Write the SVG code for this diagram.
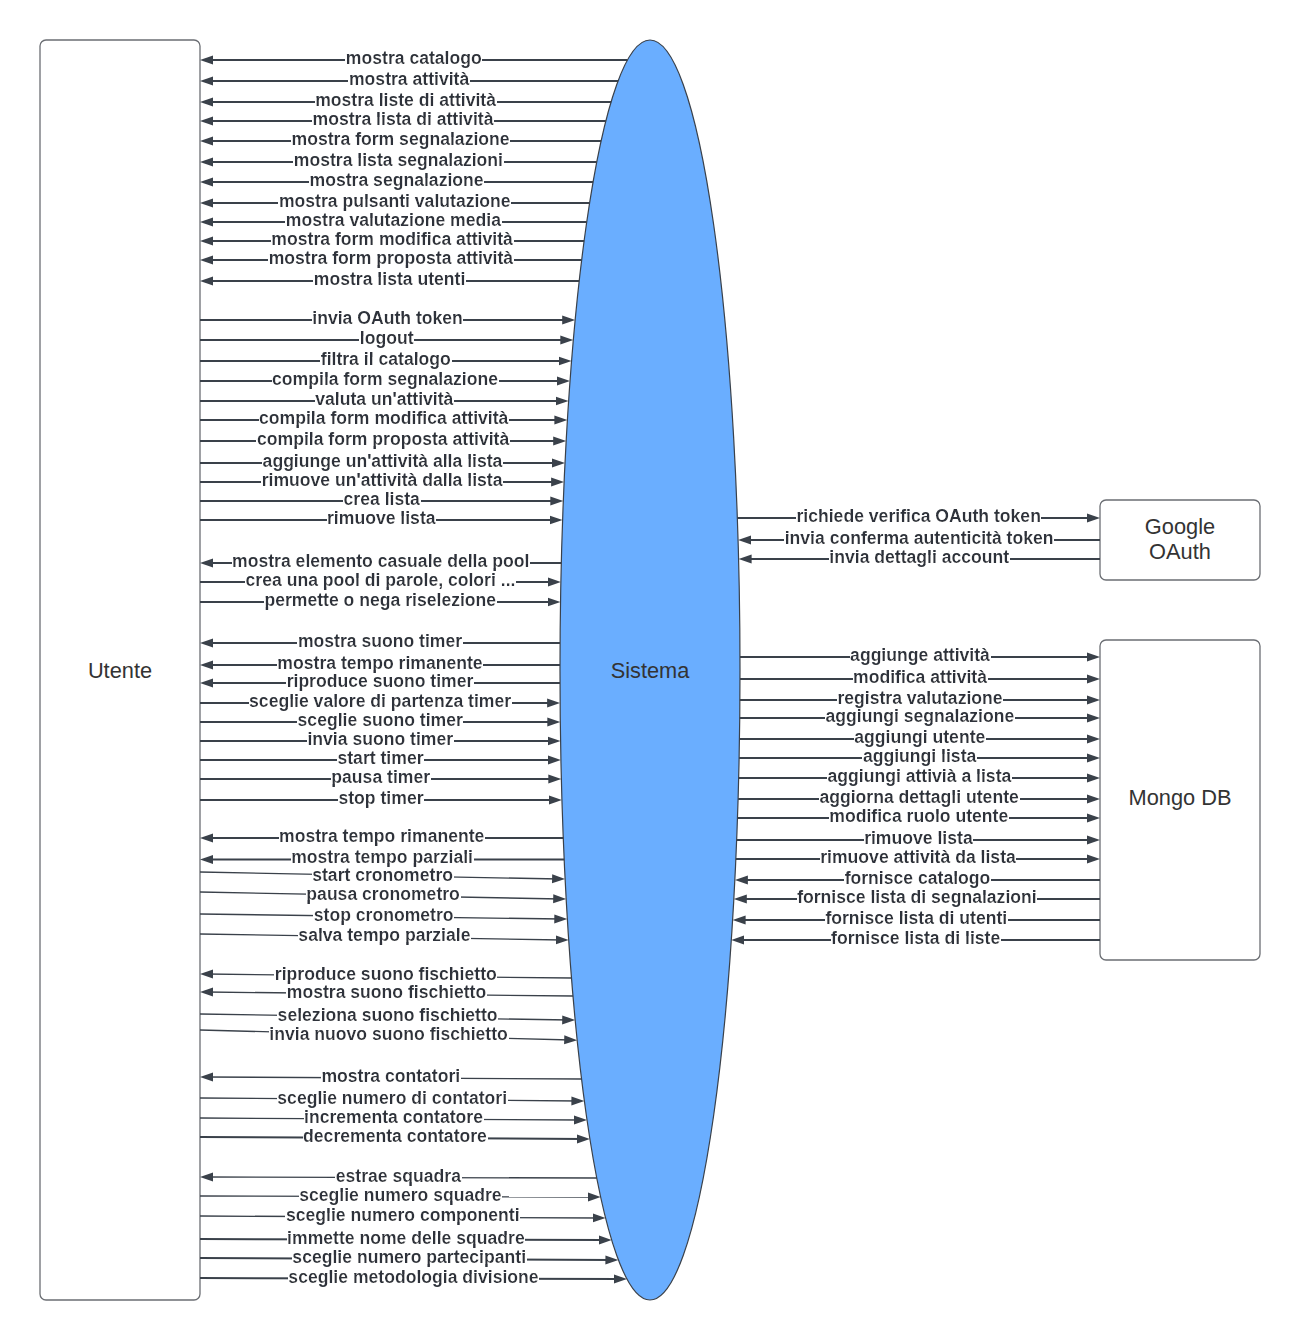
<svg xmlns="http://www.w3.org/2000/svg" width="1300" height="1340" viewBox="0 0 1300 1340">
<style>
.box{fill:#fff;stroke:#6b6e73;stroke-width:1.3}
.ell{fill:#6aaeff;stroke:#3a414a;stroke-width:1.2}
.nl{font-family:"Liberation Sans",Arial,sans-serif;font-size:21.8px;fill:#333;text-anchor:middle}
.c line{stroke:#3a414a;stroke-width:2;marker-end:url(#ah)}
.c line.t{stroke-width:1.3}
.c text{font-family:"Liberation Sans",Arial,sans-serif;font-size:17.6px;font-weight:bold;fill:#2e333a;text-anchor:middle;filter:url(#bg)}
</style>
<defs>
<marker id="ah" markerUnits="userSpaceOnUse" viewBox="0 0 14 10" markerWidth="14" markerHeight="10" refX="7" refY="5" orient="auto">
<path d="M0,0.5 L13,5 L0,9.5 z" fill="#3a414a"/>
</marker>
<filter id="bg" x="-0.02" y="-0.1" width="1.04" height="1.2" primitiveUnits="objectBoundingBox">
<feFlood flood-color="#ffffff" x="0" y="0.41" width="1" height="0.4" result="f"/>
<feMerge><feMergeNode in="f"/><feMergeNode in="SourceGraphic"/></feMerge>
</filter>
</defs>
<rect width="1300" height="1340" fill="#fff"/>
<g id="utente"><rect class="box" x="40" y="40" width="160" height="1260" rx="6"/><text class="nl" x="120" y="678">Utente</text></g>
<g id="sistema"><ellipse class="ell" cx="650" cy="670" rx="90" ry="630"/><text class="nl" x="650" y="678">Sistema</text></g>
<g id="google"><rect class="box" x="1100" y="500" width="160" height="80" rx="6"/><text class="nl" x="1180" y="534">Google</text><text class="nl" x="1180" y="559">OAuth</text></g>
<g id="mongo"><rect class="box" x="1100" y="640" width="160" height="320" rx="6"/><text class="nl" x="1180" y="805">Mongo DB</text></g>
<g id="connectors" class="c">
<line x1="627.5" y1="60" x2="206" y2="60"/><text x="413.8" y="64">mostra catalogo</text>
<line x1="618.1" y1="81" x2="206" y2="81"/><text x="409.1" y="85">mostra attività</text>
<line x1="611.1" y1="102" x2="206" y2="102"/><text x="405.6" y="106">mostra liste di attività</text>
<line x1="605.9" y1="121" x2="206" y2="121"/><text x="403" y="125">mostra lista di attività</text>
<line x1="601.1" y1="141" x2="206" y2="141"/><text x="400.6" y="145">mostra form segnalazione</text>
<line x1="596.8" y1="162" x2="206" y2="162"/><text x="398.4" y="166">mostra lista segnalazioni</text>
<line x1="593.1" y1="182" x2="206" y2="182"/><text x="396.6" y="186">mostra segnalazione</text>
<line x1="589.6" y1="203" x2="206" y2="203"/><text x="394.8" y="207">mostra pulsanti valutazione</text>
<line x1="586.7" y1="222" x2="206" y2="222"/><text x="393.4" y="226">mostra valutazione media</text>
<line x1="584.1" y1="241" x2="206" y2="241"/><text x="392.1" y="245">mostra form modifica attività</text>
<line x1="581.7" y1="260" x2="206" y2="260"/><text x="390.9" y="264">mostra form proposta attività</text>
<line x1="579.2" y1="281" x2="206" y2="281"/><text x="389.6" y="285">mostra lista utenti</text>
<line x1="200" y1="320" x2="569.2" y2="320"/><text x="387.6" y="324">invia OAuth token</text>
<line x1="200" y1="340" x2="567.3" y2="340"/><text x="386.7" y="344">logout</text>
<line x1="200" y1="361" x2="565.6" y2="361"/><text x="385.8" y="365">filtra il catalogo</text>
<line x1="200" y1="381" x2="564" y2="381"/><text x="385" y="385">compila form segnalazione</text>
<line x1="200" y1="401" x2="562.6" y2="401"/><text x="384.3" y="405">valuta un'attività</text>
<line x1="200" y1="420" x2="561.4" y2="420"/><text x="383.7" y="424">compila form modifica attività</text>
<line x1="200" y1="441" x2="560.2" y2="441"/><text x="383.1" y="445">compila form proposta attività</text>
<line x1="200" y1="463" x2="559" y2="463"/><text x="382.5" y="467">aggiunge un'attività alla lista</text>
<line x1="200" y1="482" x2="558.1" y2="482"/><text x="382.1" y="486">rimuove un'attività dalla lista</text>
<line x1="200" y1="501" x2="557.3" y2="501"/><text x="381.7" y="505">crea lista</text>
<line x1="200" y1="520" x2="556.6" y2="520"/><text x="381.3" y="524">rimuove lista</text>
<line x1="561.3" y1="563" x2="206" y2="563"/><text x="380.7" y="567">mostra elemento casuale della pool</text>
<line x1="200" y1="582" x2="554.9" y2="582"/><text x="380.5" y="586">crea una pool di parole, colori ...</text>
<line x1="200" y1="602" x2="554.5" y2="602"/><text x="380.3" y="606">permette o nega riselezione</text>
<line x1="560" y1="643" x2="206" y2="643"/><text x="380" y="647">mostra suono timer</text>
<line x1="560" y1="665" x2="206" y2="665"/><text x="380" y="669">mostra tempo rimanente</text>
<line x1="560" y1="683" x2="206" y2="683"/><text x="380" y="687">riproduce suono timer</text>
<line x1="200" y1="703" x2="554.1" y2="703"/><text x="380.1" y="707">sceglie valore di partenza timer</text>
<line x1="200" y1="722" x2="554.3" y2="722"/><text x="380.2" y="726">sceglie suono timer</text>
<line x1="200" y1="741" x2="554.6" y2="741"/><text x="380.3" y="745">invia suono timer</text>
<line x1="200" y1="760" x2="554.9" y2="760"/><text x="380.5" y="764">start timer</text>
<line x1="200" y1="779" x2="555.3" y2="779"/><text x="380.7" y="783">pausa timer</text>
<line x1="200" y1="800" x2="555.9" y2="800"/><text x="381" y="804">stop timer</text>
<line x1="563.3" y1="838" x2="206" y2="838"/><text x="381.7" y="842">mostra tempo rimanente</text>
<line x1="564.2" y1="859.5" x2="206" y2="859.5"/><text x="382.1" y="862.5">mostra tempo parziali</text>
<line class="t" x1="200" y1="872" x2="559.1" y2="879"/><text x="382.6" y="881">start cronometro</text>
<line class="t" x1="200" y1="892" x2="560.2" y2="899"/><text x="383.1" y="899.5">pausa cronometro</text>
<line class="t" x1="200" y1="914" x2="561.3" y2="919"/><text x="383.7" y="920.5">stop cronometro</text>
<line class="t" x1="200" y1="934" x2="562.7" y2="940"/><text x="384.4" y="941">salva tempo parziale</text>
<line class="t" x1="571.5" y1="978" x2="206" y2="974"/><text x="385.8" y="980">riproduce suono fischietto</text>
<line class="t" x1="573" y1="996" x2="206" y2="992"/><text x="386.5" y="998">mostra suono fischietto</text>
<line class="t" x1="200" y1="1014" x2="569.2" y2="1020"/><text x="387.6" y="1021">seleziona suono fischietto</text>
<line class="t" x1="200" y1="1030" x2="571.2" y2="1040"/><text x="388.6" y="1039.5">invia nuovo suono fischietto</text>
<line class="t" x1="581.5" y1="1079" x2="206" y2="1077"/><text x="390.8" y="1082">mostra contatori</text>
<line class="t" x1="200" y1="1098" x2="578.4" y2="1101"/><text x="392.2" y="1103.5">sceglie numero di contatori</text>
<line class="t" x1="200" y1="1118" x2="581" y2="1120"/><text x="393.5" y="1123">incrementa contatore</text>
<line x1="200" y1="1137" x2="583.9" y2="1139"/><text x="395" y="1142">decrementa contatore</text>
<line class="t" x1="596.8" y1="1178" x2="206" y2="1177"/><text x="398.4" y="1181.5">estrae squadra</text>
<line class="t" x1="200" y1="1196" x2="594.7" y2="1197"/><text x="400.4" y="1200.5">sceglie numero squadre</text>
<line class="t" x1="200" y1="1216" x2="599.6" y2="1218"/><text x="402.8" y="1221">sceglie numero componenti</text>
<line x1="200" y1="1239" x2="605.7" y2="1240"/><text x="405.9" y="1243.5">immette nome delle squadre</text>
<line x1="200" y1="1258" x2="612.4" y2="1260"/><text x="409.2" y="1263">sceglie numero partecipanti</text>
<line x1="200" y1="1278" x2="621" y2="1279"/><text x="413.5" y="1282.5">sceglie metodologia divisione</text>
<line x1="737.3" y1="518" x2="1094" y2="518"/><text x="918.7" y="522">richiede verifica OAuth token</text>
<line x1="1100" y1="540" x2="744.1" y2="540"/><text x="919.1" y="544">invia conferma autenticità token</text>
<line x1="1100" y1="559" x2="744.6" y2="559"/><text x="919.3" y="563">invia dettagli account</text>
<line x1="740" y1="657" x2="1094" y2="657"/><text x="920" y="661">aggiunge attività</text>
<line x1="740" y1="679" x2="1094" y2="679"/><text x="920" y="683">modifica attività</text>
<line x1="739.9" y1="700" x2="1094" y2="700"/><text x="920" y="704">registra valutazione</text>
<line x1="739.7" y1="718" x2="1094" y2="718"/><text x="919.9" y="722">aggiungi segnalazione</text>
<line x1="739.5" y1="739" x2="1094" y2="739"/><text x="919.8" y="743">aggiungi utente</text>
<line x1="739.1" y1="758" x2="1094" y2="758"/><text x="919.6" y="762">aggiungi lista</text>
<line x1="738.7" y1="778" x2="1094" y2="778"/><text x="919.4" y="782">aggiungi attivià a lista</text>
<line x1="738.1" y1="799" x2="1094" y2="799"/><text x="919.1" y="803">aggiorna dettagli utente</text>
<line x1="737.5" y1="818" x2="1094" y2="818"/><text x="918.8" y="822">modifica ruolo utente</text>
<line x1="736.7" y1="840" x2="1094" y2="840"/><text x="918.4" y="844">rimuove lista</text>
<line x1="735.9" y1="859" x2="1094" y2="859"/><text x="918" y="863">rimuove attività da lista</text>
<line x1="1100" y1="880" x2="740.9" y2="880"/><text x="917.5" y="884">fornisce catalogo</text>
<line x1="1100" y1="899" x2="739.8" y2="899"/><text x="916.9" y="903">fornisce lista di segnalazioni</text>
<line x1="1100" y1="920" x2="738.6" y2="920"/><text x="916.3" y="924">fornisce lista di utenti</text>
<line x1="1100" y1="940" x2="737.3" y2="940"/><text x="915.7" y="944">fornisce lista di liste</text>
</g>
</svg>
